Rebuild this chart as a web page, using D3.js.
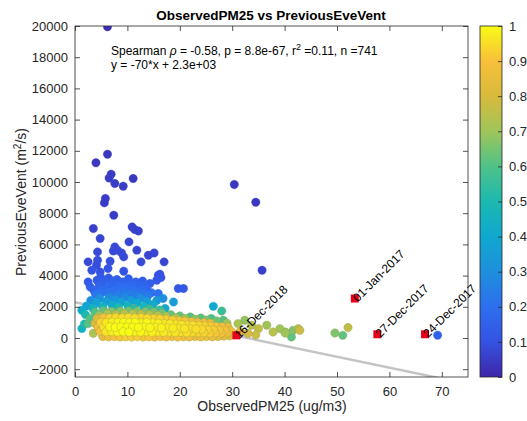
<!DOCTYPE html>
<html>
<head>
<meta charset="utf-8">
<script src="https://cdn.jsdelivr.net/npm/d3@7"></script>
<style>
  body { margin: 0; background: #fff; }
  text { font-family: "Liberation Sans", Arial, sans-serif; }
</style>
</head>
<body>
<div id="chart"></div>
<script>
// data: [ObservedPM25, PreviousEveVent, density]
var sparsePts = [
  [6.2,19950,0.02],[6.2,11780,0.04],[4.0,11230,0.04],[6.9,10500,0.05],[6.5,10250,0.05],
  [7.6,9900,0.05],[9.2,9730,0.05],[11.1,10220,0.04],[5.8,8940,0.05],[5.6,8660,0.05],
  [7.4,7870,0.05],[3.5,7020,0.06],[10.9,7120,0.06],[11.4,6950,0.06],[12.1,6860,0.06],
  [4.8,6380,0.07],[10.3,6160,0.07],[7.6,5840,0.08],[7.3,5580,0.08],[8.1,5630,0.08],
  [8.9,5450,0.08],[9.3,5200,0.08],[11.8,5630,0.07],[4.3,5520,0.08],[2.5,4880,0.08],
  [4.3,4980,0.09],[4.1,4660,0.09],[6.7,4920,0.09],[12.6,4880,0.08],[14.0,5300,0.07],
  [15.1,5450,0.07],[17.0,4880,0.07],[3.2,4340,0.1],[4.8,4230,0.1],[9.3,4280,0.1],
  [16.2,4090,0.09],[6.3,4450,0.1],[15.9,4020,0.1],[16.4,3870,0.1],
  [30.4,9840,0.04],[34.5,8700,0.04],[35.7,4340,0.06],[69.2,175,0.15]
];
var bluePts = [
  [2.5,3590,0.12],[2.9,3270,0.14],[3.6,3050,0.16],[4.2,3700,0.13],[4.6,3350,0.16],
  [5.1,2900,0.2],[5.5,3600,0.15],[6.0,3200,0.18],[6.4,3850,0.13],[6.8,2800,0.22],
  [7.0,3450,0.17],[7.5,3100,0.2],[8.0,3750,0.14],[8.3,2750,0.24],[8.7,3300,0.19],
  [9.1,3600,0.16],[9.4,2950,0.22],[9.8,3250,0.2],[10.2,3800,0.14],[10.5,2800,0.24],
  [10.9,3400,0.18],[11.3,3050,0.21],[11.8,2700,0.25],[12.2,3350,0.17],[12.7,3100,0.19],
  [13.0,3380,0.16],[13.3,2800,0.22],[13.7,3170,0.17],[14.3,3490,0.14],[14.6,2900,0.2],
  [15.6,3700,0.12],[15.9,2850,0.2],[16.8,2530,0.3],[19.7,3170,0.12],[20.7,3170,0.12],
  [18.8,2310,0.35],[17.2,1890,0.42],
  [3.9,2800,0.22],[5.0,3100,0.19],[6.2,2950,0.21],[7.3,3650,0.15],[8.5,3050,0.2],
  [9.7,2750,0.24],[10.6,3150,0.19],[11.6,3600,0.15],[12.4,2900,0.21],[13.9,2700,0.24],
  [4.9,3900,0.12],[7.9,3400,0.17],[10.0,3550,0.16],[12.9,3650,0.14]
];
var cyanPts = [
  [1.3,1780,0.42],[2.2,2050,0.38],[3.0,2400,0.3],[3.4,1900,0.45],[4.1,2250,0.38],
  [4.7,2550,0.3],[5.3,2000,0.45],[5.9,2350,0.36],[6.5,2600,0.28],[7.1,2100,0.42],
  [7.7,2450,0.33],[8.3,1950,0.5],[8.9,2300,0.38],[9.5,2600,0.28],[10.1,2050,0.46],
  [10.7,2400,0.35],[11.3,1900,0.52],[11.9,2250,0.4],[12.5,2550,0.3],[13.1,2000,0.48],
  [13.7,2350,0.36],[14.3,1850,0.55],[14.9,2150,0.42],[15.6,2400,0.33],[16.1,1800,0.55],
  [1.3,600,0.45],[1.8,900,0.5],[2.5,920,0.6],[26.4,2030,0.4],[28.0,1730,0.55]
];
var greenPts = [
  [2.0,1500,0.5],[2.9,1240,0.6],[3.8,1650,0.6],[4.6,1450,0.7],[5.4,1750,0.62],
  [6.2,1550,0.72],[7.0,1700,0.66],[7.8,1500,0.75],[8.6,1720,0.66],[9.4,1560,0.74],
  [10.2,1740,0.64],[11.0,1550,0.74],[11.8,1700,0.66],[12.6,1520,0.75],[13.4,1680,0.66],
  [14.2,1500,0.74],[15.0,1650,0.65],[15.8,1450,0.74],[16.6,1600,0.64],[17.4,1400,0.72],
  [18.3,1500,0.62],[19.2,1300,0.72],[20.0,1420,0.62],[21.0,1250,0.7],[22.0,1350,0.6],
  [23.0,1200,0.68],[24.0,1280,0.6],[25.0,1150,0.66],[26.0,1250,0.58],[27.0,1100,0.64],
  [28.3,1140,0.6],[29.0,950,0.7]
];
var yellowPts = [
  [4.2,1250,0.82],[5.4,1300,0.9],[6.6,1280,0.93],[7.8,1320,0.94],[9.0,1290,0.95],
  [10.2,1310,0.95],[11.4,1280,0.95],[12.6,1300,0.94],[13.8,1270,0.94],[15.0,1250,0.93],
  [16.2,1230,0.93],[17.4,1200,0.92],[18.6,1150,0.92],[19.8,1120,0.91],[21.0,1080,0.91],
  [22.2,1050,0.9],[23.4,1000,0.89],[24.6,980,0.88],[25.8,950,0.87],
  [3.8,950,0.8],[4.9,1000,0.93],[6.0,980,0.97],[7.1,1010,0.98],[8.2,990,0.99],
  [9.3,1000,1.0],[10.4,980,1.0],[11.5,1000,1.0],[12.6,970,0.99],[13.7,990,0.99],
  [14.8,960,0.98],[15.9,940,0.98],[17.0,920,0.97],[18.1,900,0.97],[19.2,880,0.96],
  [20.3,860,0.96],[21.4,840,0.95],[22.5,820,0.95],[23.6,800,0.94],[24.7,780,0.93],
  [25.8,760,0.92],[26.9,740,0.91],[28.0,720,0.89],[29.2,700,0.86],
  [4.4,680,0.88],[5.5,700,0.96],[6.6,720,0.99],[7.7,690,1.0],[8.8,710,1.0],
  [9.9,690,1.0],[11.0,700,1.0],[12.1,680,1.0],[13.2,700,0.99],[14.3,670,0.99],
  [15.4,690,0.98],[16.5,660,0.98],[17.6,650,0.97],[18.7,640,0.97],[19.8,620,0.96],
  [20.9,600,0.96],[22.0,590,0.95],[23.1,570,0.95],[24.2,560,0.94],[25.3,540,0.93],
  [26.4,520,0.92],[27.5,500,0.91],[28.6,480,0.9],[29.7,460,0.88],
  [3.5,300,0.72],[4.8,420,0.9],[5.9,400,0.96],[7.0,410,0.98],[8.1,390,0.99],
  [9.2,400,1.0],[10.3,380,1.0],[11.4,400,0.99],[12.5,380,0.99],[13.6,400,0.98],
  [14.7,370,0.98],[15.8,390,0.97],[16.9,360,0.97],[18.0,380,0.96],[19.1,350,0.96],
  [20.2,360,0.95],[21.3,340,0.95],[22.4,350,0.94],[23.5,330,0.93],[24.6,340,0.93],
  [25.7,320,0.92],[26.8,330,0.91],[27.9,310,0.9],[29.0,320,0.88],[30.1,300,0.85],
  [5.3,100,0.84],[6.4,70,0.88],[7.5,90,0.9],[8.6,60,0.91],[9.7,80,0.92],
  [10.8,60,0.92],[11.9,90,0.92],[13.0,60,0.91],[14.1,80,0.91],[15.2,60,0.9],
  [16.3,90,0.9],[17.4,70,0.9],[18.5,90,0.89],[19.6,60,0.89],[20.7,80,0.88],
  [21.8,70,0.88],[22.9,90,0.87],[24.0,70,0.87],[25.1,90,0.86],[26.2,80,0.86],
  [27.3,100,0.85],[28.4,120,0.84],[29.5,140,0.83]
];
var tailPts = [
  [31.1,920,0.72],[32.4,1140,0.68],[33.7,820,0.74],[35.0,600,0.76],[36.6,820,0.7],
  [37.8,380,0.74],[39.1,600,0.7],[40.1,380,0.68],[41.6,490,0.66],[42.6,600,0.72],
  [40.1,320,0.7],[41.3,64,0.62],[42.9,490,0.78],[49.6,320,0.66],[51.1,170,0.62],
  [52.1,670,0.76],[31.5,400,0.82],[33.0,300,0.8],[34.5,200,0.78]
];

// highlighted days
var eventDates = ['16-Dec-2018', '01-Jan-2017', '27-Dec-2017', '24-Dec-2017'];
var eventPM = [30.8, 53.4, 57.7, 66.8];
var eventVent = [170, 2530, 240, 240];

// fit
var fitSlope = -70, fitIntercept = 2300, fitRange = [0, 69.2];

var xTicks = [0, 10, 20, 30, 40, 50, 60, 70];
var yTicks = [-2000, 0, 2000, 4000, 6000, 8000, 10000, 12000, 14000, 16000, 18000, 20000];
var cbTicks = [0, 0.1, 0.2, 0.3, 0.4, 0.5, 0.6, 0.7, 0.8, 0.9, 1];

// parula-ish colour stops
var parulaStops = ['#3e26a8', '#3552e2', '#2d6fef', '#1e8fdc', '#0fa8cf', '#1bb9b0',
                   '#4fc288', '#9fc55a', '#d8ba3c', '#f8c03a', '#f9fb15'];

var W = 527, H = 421;
var padL = 75, padR = 468, padT = 26, padB = 377;
var ink = '#262626';

var svg = d3.select('#chart').append('svg')
    .attr('width', W).attr('height', H);

var x = d3.scaleLinear().domain([0, 75]).range([padL, padR]);
var y = d3.scaleLinear().domain([-2500, 20000]).range([padB, padT]);
var color = d3.scaleLinear()
    .domain(d3.range(parulaStops.length).map(function(i) { return i / (parulaStops.length - 1); }))
    .range(parulaStops);

svg.append('clipPath').attr('id', 'clip')
  .append('rect').attr('x', padL).attr('y', padT)
    .attr('width', padR - padL).attr('height', padB - padT);

var plot = svg.append('g').attr('clip-path', 'url(#clip)');

// fit line under the points
plot.append('line')
    .attr('x1', x(fitRange[0])).attr('y1', y(fitSlope * fitRange[0] + fitIntercept))
    .attr('x2', x(fitRange[1])).attr('y2', y(fitSlope * fitRange[1] + fitIntercept))
    .attr('stroke', '#c4c4c4').attr('stroke-width', 2.5);

var pts = [].concat(sparsePts, bluePts, cyanPts, greenPts, yellowPts, tailPts)
    .sort(function(a, b) { return a[2] - b[2]; });

plot.selectAll('circle.pt')
    .data(pts).enter().append('circle')
    .attr('class', 'pt')
    .attr('cx', function(d) { return x(d[0]); })
    .attr('cy', function(d) { return y(d[1]); })
    .attr('r', 4.2)
    .attr('fill', function(d) { return color(d[2]); })
    .attr('stroke', function(d) { return d[2] > 0.5 ? '#8f9a4a' : color(d[2]); })
    .attr('stroke-opacity', 0.5)
    .attr('stroke-width', 0.7);

// red squares + rotated date labels
var ev = svg.append('g').selectAll('g')
    .data(eventDates).enter().append('g')
    .attr('transform', function(d, i) { return 'translate(' + x(eventPM[i]) + ',' + y(eventVent[i]) + ')'; });
ev.append('rect')
    .attr('x', -4).attr('y', -4).attr('width', 8).attr('height', 8)
    .attr('fill', '#e8001c');
ev.append('text')
    .attr('transform', 'translate(3,4) rotate(-45)')
    .attr('font-size', '12px').attr('fill', '#000')
    .text(function(d) { return d; });

// axes box and ticks (inward, all four sides)
svg.append('rect')
    .attr('x', padL).attr('y', padT).attr('width', padR - padL).attr('height', padB - padT)
    .attr('fill', 'none').attr('stroke', ink).attr('stroke-width', 0.8);

var xAxis = svg.append('g').attr('transform', 'translate(0,' + padB + ')')
    .call(d3.axisBottom(x).tickValues(xTicks).tickSizeInner(-5).tickSizeOuter(0).tickPadding(10));
var xAxisTop = svg.append('g').attr('transform', 'translate(0,' + padT + ')')
    .call(d3.axisTop(x).tickValues(xTicks).tickSizeInner(-5).tickSizeOuter(0).tickFormat(''));
var yAxis = svg.append('g').attr('transform', 'translate(' + padL + ',0)')
    .call(d3.axisLeft(y).tickValues(yTicks).tickSizeInner(-5).tickSizeOuter(0).tickPadding(7)
      .tickFormat(d3.format('d')));
var yAxisRight = svg.append('g').attr('transform', 'translate(' + padR + ',0)')
    .call(d3.axisRight(y).tickValues(yTicks).tickSizeInner(-5).tickSizeOuter(0).tickFormat(''));

[xAxis, xAxisTop, yAxis, yAxisRight].forEach(function(g) {
  g.select('.domain').remove();
  g.selectAll('line').attr('stroke', ink).attr('stroke-width', 0.8);
  g.selectAll('text').attr('fill', ink).attr('font-size', '13px')
    .attr('font-family', '"Liberation Sans", Arial, sans-serif');
});

// titles
svg.append('text')
    .attr('x', 271).attr('y', 20).attr('text-anchor', 'middle')
    .attr('font-size', '13.5px').attr('font-weight', 'bold').attr('fill', '#000')
    .text('ObservedPM25 vs PreviousEveVent');

svg.append('text')
    .attr('x', 272).attr('y', 411).attr('text-anchor', 'middle')
    .attr('font-size', '14px').attr('fill', ink)
    .text('ObservedPM25 (ug/m3)');

var ylab = svg.append('text')
    .attr('transform', 'translate(26,202) rotate(-90)')
    .attr('text-anchor', 'middle').attr('font-size', '14px').attr('fill', ink);
ylab.append('tspan').text('PreviousEveVent (m');
ylab.append('tspan').attr('dy', -5).attr('font-size', '10px').text('2');
ylab.append('tspan').attr('dy', 5).text('/s)');

// stats annotation
var ann = svg.append('text').attr('x', 111).attr('y', 55)
    .attr('font-size', '12px').attr('fill', '#000');
ann.append('tspan').text('Spearman ');
ann.append('tspan').attr('font-style', 'italic').text('\u03c1');
ann.append('tspan').text(' = -0.58, p = 8.8e-67, r');
ann.append('tspan').attr('dy', -5).attr('font-size', '9px').text('2');
ann.append('tspan').attr('dy', 5).text(' =0.11, n =741');
svg.append('text').attr('x', 111).attr('y', 69)
    .attr('font-size', '12px').attr('fill', '#000')
    .text('y = -70*x + 2.3e+03');

// colorbar
var cbX = 480, cbW = 22;
var cb = d3.scaleLinear().domain([0, 1]).range([padB, padT]);
var grad = svg.append('defs').append('linearGradient')
    .attr('id', 'cbgrad').attr('x1', 0).attr('y1', 1).attr('x2', 0).attr('y2', 0);
grad.selectAll('stop').data(parulaStops).enter().append('stop')
    .attr('offset', function(d, i) { return i / (parulaStops.length - 1); })
    .attr('stop-color', function(d) { return d; });
svg.append('rect')
    .attr('x', cbX).attr('y', padT).attr('width', cbW).attr('height', padB - padT)
    .attr('fill', 'url(#cbgrad)').attr('stroke', ink).attr('stroke-width', 0.8);
var cbAxis = svg.append('g').attr('transform', 'translate(' + (cbX + cbW) + ',0)')
    .call(d3.axisRight(cb).tickValues(cbTicks).tickSizeInner(-4).tickSizeOuter(0).tickPadding(7)
      .tickFormat(function(d) { return d3.format('~g')(d); }));
cbAxis.select('.domain').remove();
cbAxis.selectAll('line').attr('stroke', ink).attr('stroke-width', 0.8);
cbAxis.selectAll('text').attr('fill', ink).attr('font-size', '13px')
    .attr('font-family', '"Liberation Sans", Arial, sans-serif');
</script>
</body>
</html>
